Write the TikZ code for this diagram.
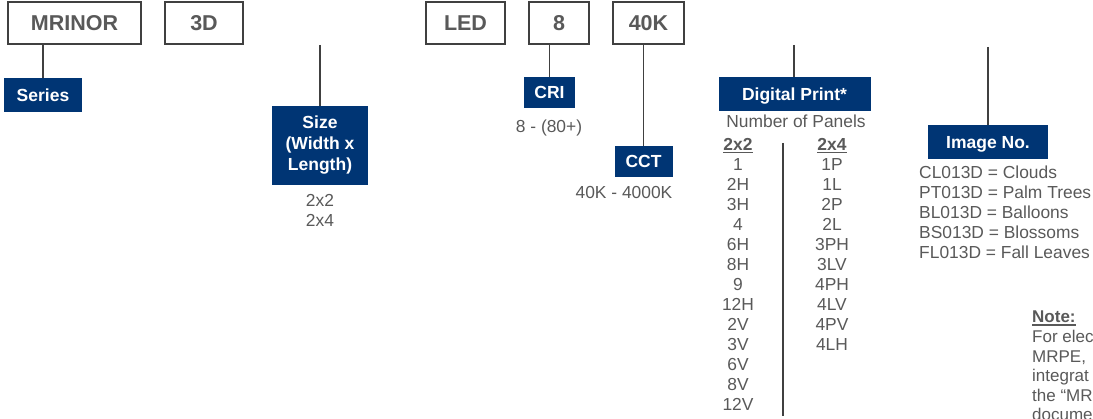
\documentclass[tikz,border=0pt]{standalone}
\usepackage{fontspec}
\setmainfont{Liberation Sans}
\definecolor{navy}{RGB}{0,53,116}
\definecolor{txt}{RGB}{89,89,89}
\definecolor{ln}{RGB}{64,64,64}
\newcommand\myul[1]{\leavevmode\vtop{\hbox{#1}\kern1.2pt\hrule height1.3pt}}
\begin{document}
\begin{tikzpicture}[x=1pt,y=-1pt,
 codebox/.style={draw=ln, line width=1.3pt, fill=white, minimum height=42pt, inner sep=0pt,
   font=\fontsize{21.5}{24}\selectfont\bfseries, text=txt, text height=15.4pt, text depth=0pt},
 tag/.style={fill=navy, text=white, font=\fontsize{17.5}{21}\selectfont\bfseries, inner sep=0pt,
   align=center},
 onetag/.style={tag, text height=12.6pt, text depth=0pt},
 conn/.style={draw=ln, line width=1.6pt},
 body/.style={text=txt, font=\fontsize{17.4}{20}\selectfont, inner sep=0pt, anchor=base},
 notetxt/.style={text=txt, font=\fontsize{17}{20}\selectfont, inner sep=0pt, anchor=base west}]
\useasboundingbox (0,0) rectangle (1093,419);
\clip (0,0) rectangle (1093,419);

% code boxes
\node[codebox, minimum width=133pt] (mrinor) at (74.5,23) {MRINOR};
\node[codebox, minimum width=78pt] (b3d) at (204,23) {3D};
\node[codebox, minimum width=79pt] (led) at (465.5,23) {LED};
\node[codebox, minimum width=60pt] (b8) at (559,23) {8};
\node[codebox, minimum width=71pt] (k40) at (648.5,23) {40K};

% labels
\node[onetag, minimum width=78pt, minimum height=34pt] (series) at (43,95) {Series};
\node[tag, minimum width=96pt, minimum height=79pt] (size) at (320,145.5) {Size\\(Width x\\Length)};
\node[onetag, minimum width=51pt, minimum height=31pt] (cri) at (549.5,92.5) {CRI};
\node[onetag, minimum width=58pt, minimum height=31pt] (cct) at (643.5,161.5) {CCT};
\node[onetag, minimum width=152pt, minimum height=34pt] (dp) at (794.5,94) {Digital Print*};
\node[onetag, minimum width=120pt, minimum height=34pt] (img) at (988,142) {Image No.};

% connectors
\draw[conn] (mrinor.south -| series.north) -- (series.north);
\coordinate (sizetop) at (320,45);
\draw[conn] (sizetop) -- (sizetop |- size.north);
\draw[conn] (b8.south -| cri.north) -- (cri.north);
\draw[conn] (k40.south -| cct.north) -- (cct.north);
\coordinate (dptop) at (794,45);
\draw[conn] (dptop) -- (dptop |- dp.north);
\coordinate (imgtop) at (988,47);
\draw[conn] (imgtop) -- (imgtop |- img.north);

% values
\node[body] (criv) at (549,133) {8 - (80+)};
\node[body] (cctv) at (624,199) {40K - 4000K};
\node[body] (sz1) at (320,207) {2x2};
\node[body] (sz2) at (320,227) {2x4};
\node[body] (nop) at (796,128) {Number of Panels};

\node[body, font=\fontsize{17.4}{20}\selectfont\bfseries] (h22) at (738,151) {\myul{2x2}};
\node[body, font=\fontsize{17.4}{20}\selectfont\bfseries] (h24) at (832,151) {\myul{2x4}};
\foreach \t [count=\i] in {1,2H,3H,4,6H,8H,9,12H,2V,3V,6V,8V,12V}
  \node[body] (a\i) at (738,151+20*\i) {\t};
\foreach \t [count=\i] in {1P,1L,2P,2L,3PH,3LV,4PH,4LV,4PV,4LH}
  \node[body] (b\i) at (832,151+20*\i) {\t};
\coordinate (divtop) at (783,143);
\coordinate (divbot) at (783,416);
\draw[draw=ln, line width=1.3pt] (divtop) -- (divbot);

\foreach \t [count=\i from 0] in {CL013D = Clouds, PT013D = Palm Trees, BL013D = Balloons, BS013D = Blossoms, FL013D = Fall Leaves}
  \node[body, anchor=base west] (im\i) at (919,179+20*\i) {\t};

% note
\node[notetxt, font=\fontsize{17}{20}\selectfont\bfseries] (note) at (1032,323) {\myul{Note:}};
\foreach \t [count=\i] in {For elec, {MRPE,}, integrat, the “MR, docume}
  \node[notetxt] (n\i) at (1032,323+19.6*\i) {\t};
\end{tikzpicture}
\end{document}
